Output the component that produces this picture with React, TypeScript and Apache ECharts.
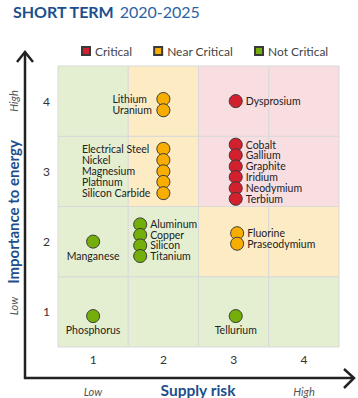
import React, { useEffect, useRef } from "react";
import * as echarts from "echarts";

// Supply risk (x), Importance to energy (y)
const criticalNames = ["Dysprosium", "Cobalt", "Gallium", "Graphite", "Iridium", "Neodymium", "Terbium"];
const criticalX = [3.03, 3.03, 3.03, 3.03, 3.03, 3.03, 3.03];
const criticalY = [4.0, 3.38, 3.23, 3.07, 2.92, 2.76, 2.61];

const nearNames = ["Lithium", "Uranium", "Electrical Steel", "Nickel", "Magnesium", "Platinum", "Silicon Carbide", "Fluorine", "Praseodymium"];
const nearX = [2, 2, 2, 2, 2, 2, 2, 3.05, 3.05];
const nearY = [4.03, 3.87, 3.32, 3.16, 3.0, 2.85, 2.69, 2.12, 1.97];

const notNames = ["Manganese", "Phosphorus", "Aluminum", "Copper", "Silicon", "Titanium", "Tellurium"];
const notX = [1, 1, 1.67, 1.67, 1.67, 1.67, 3.03];
const notY = [2.0, 0.94, 2.245, 2.095, 1.945, 1.795, 0.94];

const tickValues = [1, 2, 3, 4];
const legendNames = ["Critical", "Near Critical", "Not Critical"];

const FONT = "Lato";
const BLUE = "#1d4f8c";

function labelFor(name: string): any {
  const base = { show: true, formatter: "{b}", color: "#222", fontFamily: FONT, fontSize: 10.5, lineHeight: 10 };
  if (name === "Lithium" || name === "Uranium") {
    return { ...base, position: [-44, "50%"], align: "left", verticalAlign: "middle" };
  }
  if (["Electrical Steel", "Nickel", "Magnesium", "Platinum", "Silicon Carbide"].includes(name)) {
    return { ...base, position: [-74.5, "50%"], align: "left", verticalAlign: "middle" };
  }
  if (["Manganese", "Phosphorus", "Tellurium"].includes(name)) {
    return { ...base, position: "bottom", distance: 2 };
  }
  return { ...base, position: "right", distance: 3 };
}

function build(names: string[], xs: number[], ys: number[]) {
  return names.map((n, i) => ({ name: n, value: [xs[i], ys[i]], label: labelFor(n) }));
}

function zoneColor(c: number, r: number) {
  const green = "#e4efd1";
  const orange = "#fdebc3";
  const pink = "#f9dee1";
  if (r >= 3) return c >= 3 ? pink : c === 2 ? orange : green;
  if (r === 2) return c >= 3 ? orange : green;
  return green;
}

export default function App() {
  const ref = useRef<HTMLDivElement>(null);
  useEffect(() => {
    const chart = echarts.init(ref.current!, undefined, { renderer: "svg" });
    const cells: any[] = [];
    tickValues.forEach((c) =>
      tickValues.forEach((r) => {
        cells.push([
          { xAxis: c - 0.5, yAxis: r - 0.5, itemStyle: { color: zoneColor(c, r), borderColor: "#d9d9d9", borderWidth: 1 } },
          { xAxis: c + 0.5, yAxis: r + 0.5 },
        ]);
      })
    );
    const dotStyle = (color: string) => ({ color, borderColor: "#3a3a3a", borderWidth: 1, opacity: 1 });
    const axisCommon = {
      type: "value" as const,
      min: 0.5,
      max: 4.5,
      interval: 0.5,
      splitLine: { show: false },
      axisLine: { show: false },
      axisTick: { show: false },
    };
    const tickFmt = (v: number) => (Number.isInteger(v) && v >= 1 && v <= 4 ? String(v) : "");
    chart.setOption({
      animation: false,
      title: {
        left: 8,
        top: -3,
        text: "{b|SHORT TERM} {l|2020-2025}",
        textStyle: {
          rich: {
            b: { fontFamily: FONT, fontWeight: "bold", fontSize: 16, color: BLUE },
            l: { fontFamily: FONT, fontWeight: "normal", fontSize: 16, color: "#2b63a6" },
          },
        },
      },
      legend: {
        data: legendNames,
        left: 76,
        top: 40,
        icon: "rect",
        itemWidth: 8,
        itemHeight: 8,
        itemGap: 21,
        textStyle: { fontFamily: FONT, fontSize: 12, color: "#444" },
      },
      grid: { left: 58, right: 19, top: 66, bottom: 51 },
      xAxis: {
        ...axisCommon,
        axisLabel: { margin: 6, color: "#333", fontFamily: FONT, fontSize: 12, formatter: tickFmt },
      },
      yAxis: {
        ...axisCommon,
        axisLabel: { margin: 8, color: "#333", fontFamily: FONT, fontSize: 12, formatter: tickFmt },
      },
      series: [
        {
          name: "zones",
          type: "scatter",
          data: [],
          z: 0,
          silent: true,
          markArea: { silent: true, data: cells },
        },
        {
          name: "Critical",
          type: "scatter",
          symbolSize: 13,
          itemStyle: dotStyle("#d3202f"),
          data: build(criticalNames, criticalX, criticalY),
          z: 3,
        },
        {
          name: "Near Critical",
          type: "scatter",
          symbolSize: 13,
          itemStyle: dotStyle("#f7ae00"),
          data: build(nearNames, nearX, nearY),
          z: 3,
        },
        {
          name: "Not Critical",
          type: "scatter",
          symbolSize: 13,
          itemStyle: dotStyle("#73ae0a"),
          data: build(notNames, notX, notY),
          z: 3,
        },
      ],
      graphic: [
        { type: "line", shape: { x1: 25, y1: 52, x2: 25, y2: 379 }, style: { stroke: "#222", lineWidth: 2.5 } },
        { type: "polyline", shape: { points: [[17, 62], [25, 52], [33, 62]] }, style: { stroke: "#222", lineWidth: 2.5, fill: null } },
        { type: "line", shape: { x1: 24, y1: 378, x2: 354, y2: 378 }, style: { stroke: "#222", lineWidth: 2.5 } },
        { type: "polyline", shape: { points: [[344, 369], [354, 378], [344, 388]] }, style: { stroke: "#222", lineWidth: 2.5, fill: null } },
        { type: "text", x: 93, y: 391, style: { text: "Low", fontFamily: FONT, fontStyle: "italic", fontSize: 11, fill: "#555", align: "center", verticalAlign: "middle" } },
        { type: "text", x: 198, y: 390, style: { text: "Supply risk", fontFamily: FONT, fontWeight: "bold", fontSize: 15.5, fill: BLUE, align: "center", verticalAlign: "middle" } },
        { type: "text", x: 304, y: 391, style: { text: "High", fontFamily: FONT, fontStyle: "italic", fontSize: 11, fill: "#555", align: "center", verticalAlign: "middle" } },
        { type: "text", x: 13, y: 101, rotation: Math.PI / 2, style: { text: "High", fontFamily: FONT, fontStyle: "italic", fontSize: 11, fill: "#555", align: "center", verticalAlign: "middle" } },
        { type: "text", x: 13, y: 212, rotation: Math.PI / 2, style: { text: "Importance to energy", fontFamily: FONT, fontWeight: "bold", fontSize: 15, fill: BLUE, align: "center", verticalAlign: "middle" } },
        { type: "text", x: 13, y: 306, rotation: Math.PI / 2, style: { text: "Low", fontFamily: FONT, fontStyle: "italic", fontSize: 11, fill: "#555", align: "center", verticalAlign: "middle" } },
      ],
    });
    return () => chart.dispose();
  }, []);
  return <div ref={ref} style={{ width: 358, height: 398, position: "absolute", left: 0, top: 0 }} />;
}
